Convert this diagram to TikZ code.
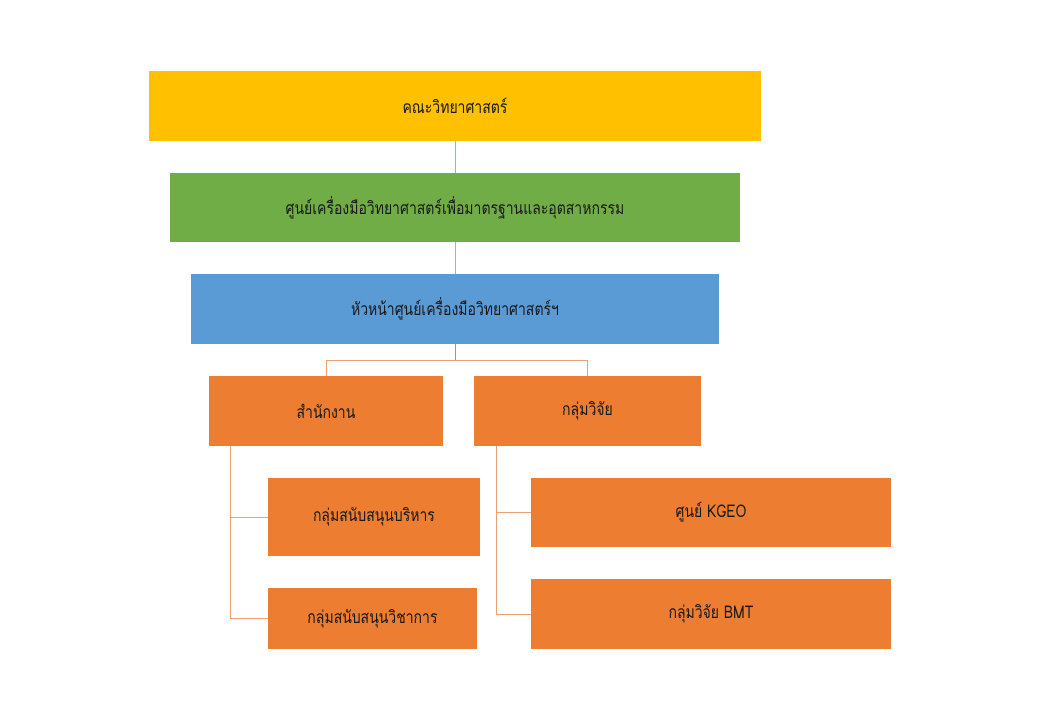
\documentclass[tikz,border=0pt]{standalone}
\usepackage{fontspec}
\newfontfamily\thai[Script=Thai,FakeStretch=0.8]{Loma}
\definecolor{cyel}{HTML}{FFC000}
\definecolor{cgrn}{HTML}{70AD47}
\definecolor{cblu}{HTML}{5B9BD5}
\definecolor{corg}{HTML}{ED7D31}
\definecolor{lgrn}{HTML}{98BE85}
\definecolor{lblu}{HTML}{8FB8E0}
\definecolor{lorg}{HTML}{F0A070}
\tikzset{
  box/.style={rectangle, inner sep=0pt, text=black!90, font=\thai\fontsize{17.5}{20}\selectfont},
  conn/.style={line width=0.9pt},
}
\begin{document}
\begin{tikzpicture}[x=1pt,y=-1pt]
\useasboundingbox (0,0) rectangle (1040,720);
\fill[white] (0,0) rectangle (1040,720);
\node[box, fill=cyel, minimum width=612, minimum height=70] (fac) at (455,106) {คณะวิทยาศาสตร์};
\node[box, fill=cgrn, minimum width=570, minimum height=69] (ctr) at (455,207.5) {ศูนย์เครื่องมือวิทยาศาสตร์เพื่อมาตรฐานและอุตสาหกรรม};
\node[box, fill=cblu, minimum width=528, minimum height=70] (head) at (455,309) {หัวหน้าศูนย์เครื่องมือวิทยาศาสตร์ฯ};
\node[box, fill=corg, minimum width=234, minimum height=70] (office) at (326,411) {สำนักงาน};
\node[box, fill=corg, minimum width=227, minimum height=70] (res) at (587.5,411) {กลุ่มวิจัย};
\node[box, fill=corg, minimum width=212, minimum height=78] (admin) at (374,517) {กลุ่มสนับสนุนบริหาร};
\node[box, fill=corg, minimum width=209, minimum height=61] (acad) at (372.5,618.5) {กลุ่มสนับสนุนวิชาการ};
\node[box, fill=corg, minimum width=360, minimum height=69] (kgeo) at (711,512.5) {ศูนย์ KGEO};
\node[box, fill=corg, minimum width=360, minimum height=70] (bmt) at (711,614) {กลุ่มวิจัย BMT};
\coordinate (trunkL) at ([xshift=22pt]office.south west);
\coordinate (trunkR) at ([xshift=23pt]res.south west);
\coordinate (split) at ([yshift=-16pt]head.south);
\draw[conn, lgrn] (fac.south) -- (ctr.north);
\draw[conn, lblu] (ctr.south) -- (head.north);
\draw[conn, corg] (head.south) -- (split);
\draw[conn, lorg] (split) -| (office.north);
\draw[conn, lorg] (split) -| (res.north);
\draw[conn, lorg] (trunkL) |- (admin.west);
\draw[conn, lorg] (trunkL) |- (acad.west);
\draw[conn, lorg] (trunkR) |- (kgeo.west);
\draw[conn, lorg] (trunkR) |- (bmt.west);
\end{tikzpicture}
\end{document}
